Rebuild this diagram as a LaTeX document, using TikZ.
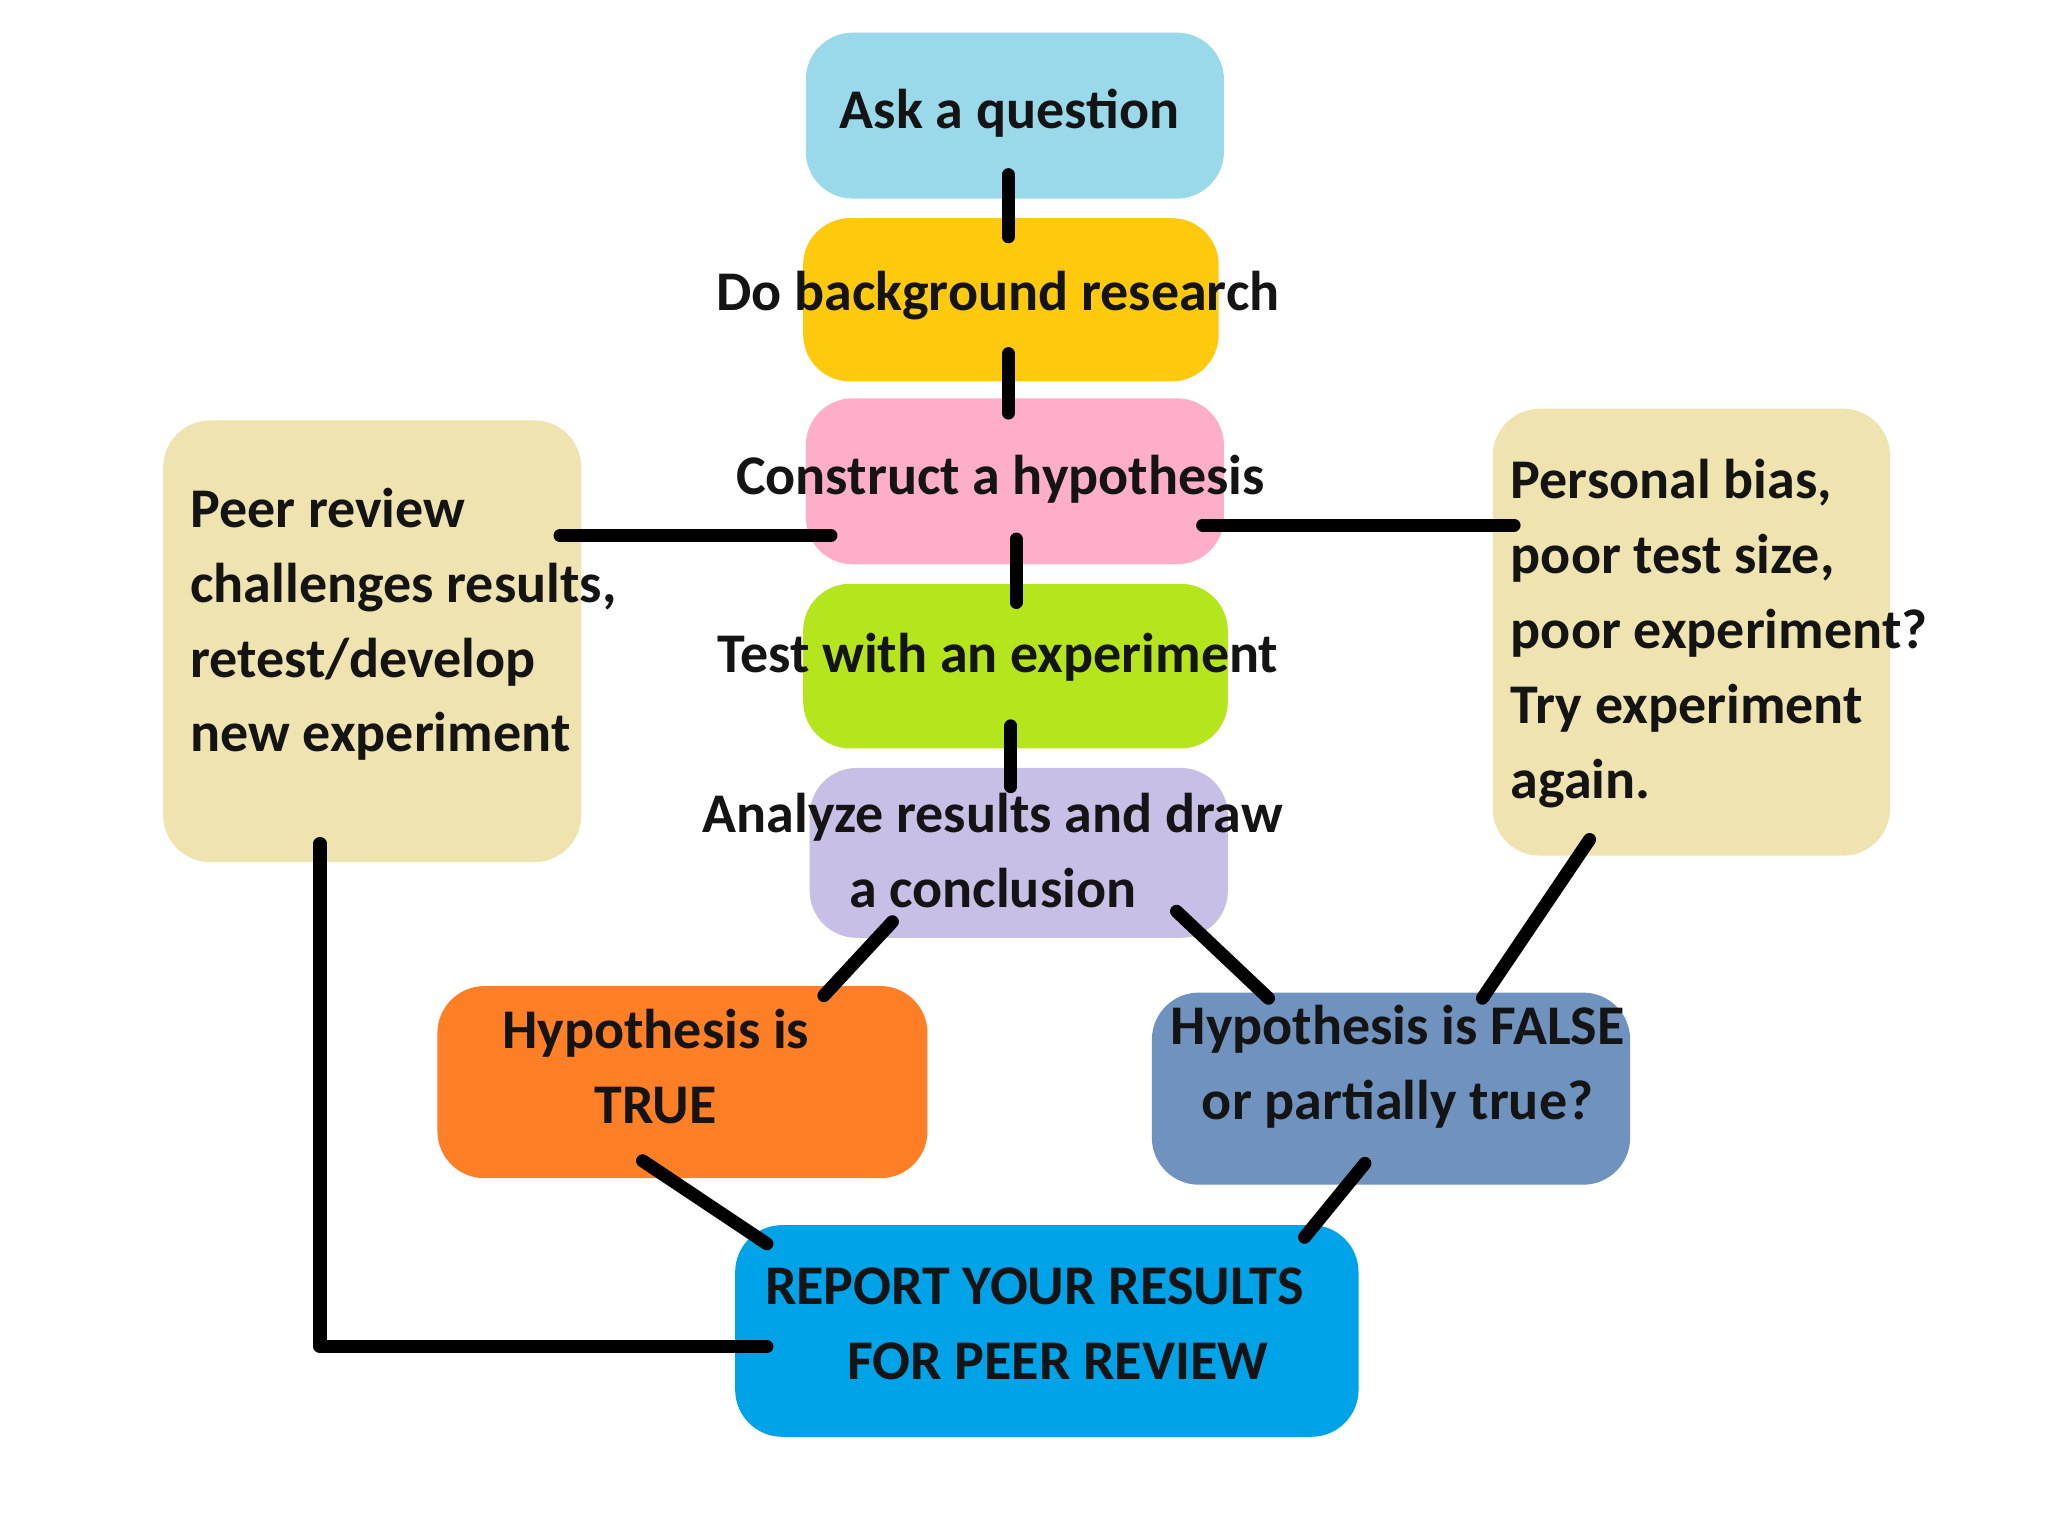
\documentclass[tikz,border=0pt]{standalone}
\usepackage{fontspec}
\setmainfont{Carlito}
\usetikzlibrary{calc}
\definecolor{cAsk}{HTML}{99D9EA}
\definecolor{cBg}{HTML}{FFC90E}
\definecolor{cHyp}{HTML}{FFAEC9}
\definecolor{cTest}{HTML}{B5E61D}
\definecolor{cAna}{HTML}{C8BFE7}
\definecolor{cTrue}{HTML}{FF7F27}
\definecolor{cFalse}{HTML}{7092BE}
\definecolor{cRep}{HTML}{00A2E8}
\definecolor{cNote}{HTML}{EFE4B0}
\definecolor{ink}{HTML}{141414}
\begin{document}
\begin{tikzpicture}[x=0.01cm,y=-0.01cm,
  box/.style={rectangle,rounded corners=0.36cm,draw=none,inner sep=0pt},
  txt/.style={inner sep=0pt,text=ink,font=\fontsize{12.2pt}{16.3pt}\selectfont\bfseries},
  link/.style={line width=0.1cm,draw=black,line cap=round,line join=round}]
\fill[white] (0,0) rectangle (1568,1176);
\useasboundingbox (0,0) rectangle (1568,1176);
% boxes
\node[box,fill=cAsk,minimum width=3.2cm,minimum height=1.27cm] (ask) at (777,88.5) {};
\node[box,fill=cBg,minimum width=3.18cm,minimum height=1.25cm] (bg) at (774,229.5) {};
\node[box,fill=cHyp,minimum width=3.2cm,minimum height=1.27cm] (hyp) at (777,368.5) {};
\node[box,fill=cTest,minimum width=3.25cm,minimum height=1.26cm] (test) at (777.5,510) {};
\node[box,fill=cAna,minimum width=3.2cm,minimum height=1.3cm] (ana) at (780,653) {};
\node[box,fill=cTrue,minimum width=3.75cm,minimum height=1.47cm] (tru) at (522.5,828.5) {};
\node[box,fill=cFalse,minimum width=3.66cm,minimum height=1.47cm] (fal) at (1065,833.5) {};
\node[box,fill=cRep,minimum width=4.77cm,minimum height=1.62cm] (rep) at (801.5,1019) {};
\node[box,fill=cNote,minimum width=3.2cm,minimum height=3.38cm] (peer) at (285,491) {};
\node[box,fill=cNote,minimum width=3.04cm,minimum height=3.42cm] (pers) at (1295,484) {};
% texts
\node[txt] (t-ask) at (773,87) {Ask a question};
\node[txt] (t-bg) at (764,226) {Do background research};
\node[txt] (t-hyp) at (766,367) {Construct a hypothesis};
\node[txt] (t-test) at (764,503) {Test with an experiment};
\node[txt,align=center] (t-ana) at (760,651.5) {Analyze results and draw\\a conclusion};
\node[txt,align=center] (t-tru) at (502,816.5) {Hypothesis is\\TRUE};
\node[txt,align=center] (t-fal) at (1070,816.5) {Hypothesis is FALSE\\or partially true?};
\node[txt,align=left,anchor=west] (t-rep) at (585,1013.5) {REPORT YOUR RESULTS\\\hspace*{0.63cm}FOR PEER REVIEW};
\node[txt,align=left,anchor=west] (t-peer) at (145,478) {Peer review\\challenges results,\\retest/develop\\new experiment};
\node[txt,align=left,anchor=west] (t-pers) at (1156,485) {Personal bias,\\poor test size,\\poor experiment?\\Try experiment\\again.};
% connectors
\draw[link] ($(ask.south)+(-5,-19)$) -- ($(bg.north)+(-2,15)$);
\draw[link] ($(bg.south)+(-2,-22)$) -- ($(hyp.north)+(-5,12)$);
\draw[link] ($(hyp.south)+(1,-20)$) -- ($(test.north)+(0.5,15)$);
\draw[link] ($(test.south)+(-3.5,-18)$) -- ($(ana.north)+(-6,15)$);
\draw[link] ($(hyp.west)+(20,41.5)$) -- ($(peer.east)+(-17,-81)$);
\draw[link] ($(hyp.east)+(-17,33.5)$) -- ($(pers.west)+(17,-82)$);
\draw[link] ($(ana.south west)+(64,-13)$) -- ($(tru.north east)+(-80,8)$);
\draw[link] ($(ana.south east)+(-40,-21)$) -- ($(fal.north west)+(90,5)$);
\draw[link] ($(pers.south)+(-78,-13)$) -- ($(fal.north)+(70,5)$);
\draw[link] ($(tru.south)+(-30.5,-14)$) -- ($(rep.north west)+(25,15)$);
\draw[link] ($(fal.south)+(-20,-17)$) -- ($(rep.north east)+(-42,10)$);
\draw[link] ($(rep.west)+(25,12)$) -| ($(peer.south)+(-40,-15)$);
\end{tikzpicture}
\end{document}
